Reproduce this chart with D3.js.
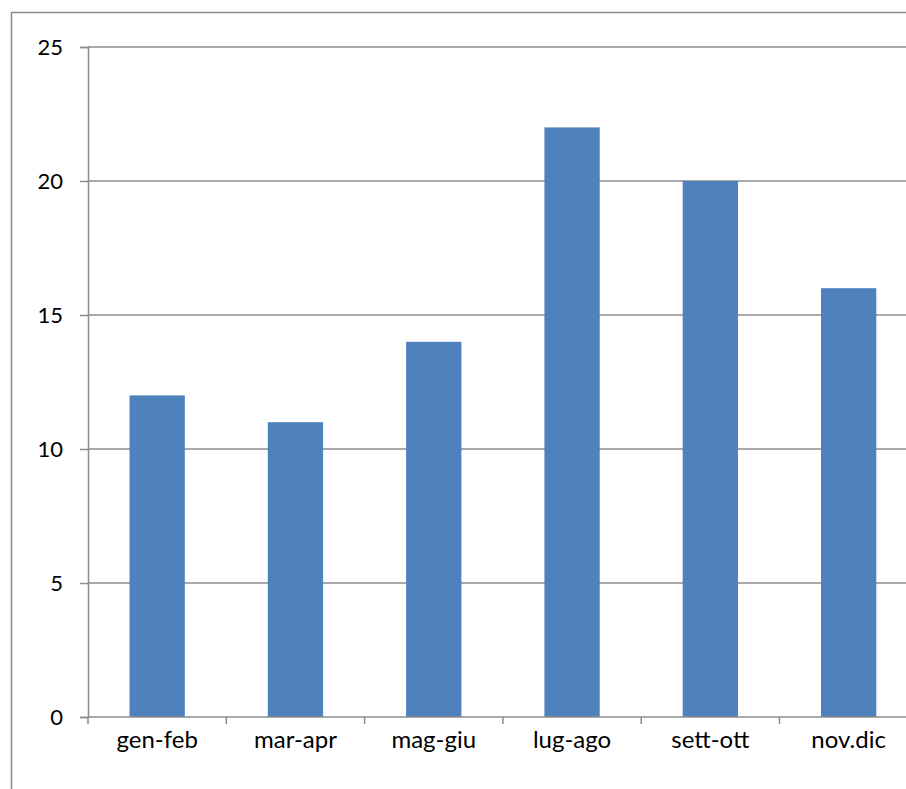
<!DOCTYPE html>
<html>
<head>
<meta charset="utf-8">
<script src="https://cdn.jsdelivr.net/npm/d3@7"></script>
<style>
  html, body { margin: 0; padding: 0; background: #fff; overflow: hidden; }
  svg { display: block; }
</style>
</head>
<body>
<svg id="chart" width="906" height="789"></svg>
<script>
const categories = ["gen-feb", "mar-apr", "mag-giu", "lug-ago", "sett-ott", "nov.dic"];
const values = [12, 11, 14, 22, 20, 16];
const yTicks = [0, 5, 10, 15, 20, 25];

const FONT = "Lato, 'Open Sans', sans-serif";
const svg = d3.select("#chart");

// chart frame (runs off the right and bottom edges)
svg.append("rect")
  .attr("x", 11.5).attr("y", 12.5)
  .attr("width", 1000).attr("height", 1000)
  .attr("fill", "none").attr("stroke", "#8c8c8c").attr("stroke-width", 1.5);

const plotLeft = 88, plotTop = 47, plotBottom = 717, bandW = 138.3;
const x = d3.scaleBand()
  .domain(categories)
  .range([plotLeft, plotLeft + bandW * categories.length])
  .paddingInner(0.6).paddingOuter(0.3);
const y = d3.scaleLinear().domain([0, 25]).range([plotBottom, plotTop]);

// horizontal gridlines
svg.append("g").selectAll("line").data(yTicks.filter(d => d > 0)).join("line")
  .attr("x1", plotLeft).attr("x2", 1000)
  .attr("y1", d => y(d)).attr("y2", d => y(d))
  .attr("stroke", "#8c8c8c").attr("stroke-width", 1.5);

// bars
svg.append("g").selectAll("rect").data(values).join("rect")
  .attr("x", (d, i) => x(categories[i]))
  .attr("width", x.bandwidth())
  .attr("y", d => y(d))
  .attr("height", d => y(0) - y(d))
  .attr("fill", "#4f81bd");

// y axis
const yAxis = d3.axisLeft(y).tickValues(yTicks).tickSize(8).tickPadding(17).tickFormat(d3.format("d"));
const gy = svg.append("g").attr("transform", `translate(${plotLeft},0)`).call(yAxis);
gy.attr("font-family", FONT).attr("font-size", 22);
gy.select(".domain").attr("stroke", "#8c8c8c").attr("stroke-width", 1.5);
gy.selectAll(".tick line").attr("stroke", "#8c8c8c").attr("stroke-width", 1.5);
gy.selectAll(".tick text").attr("fill", "#000");

// x axis
const xAxis = d3.axisBottom(x).tickSize(0).tickPadding(14);
const gx = svg.append("g").attr("transform", `translate(0,${plotBottom})`).call(xAxis);
gx.attr("font-family", FONT).attr("font-size", 24);
gx.select(".domain").remove();
gx.selectAll(".tick text").attr("fill", "#000");
svg.append("line").attr("x1", plotLeft).attr("x2", 1000)
  .attr("y1", plotBottom).attr("y2", plotBottom)
  .attr("stroke", "#8c8c8c").attr("stroke-width", 1.5);
// category boundary ticks
const bounds = d3.range(categories.length + 1).map(i => plotLeft + i * bandW);
svg.append("g").selectAll("line").data(bounds).join("line")
  .attr("x1", d => d).attr("x2", d => d)
  .attr("y1", plotBottom).attr("y2", plotBottom + 7)
  .attr("stroke", "#8c8c8c").attr("stroke-width", 1.5);
</script>
</body>
</html>
